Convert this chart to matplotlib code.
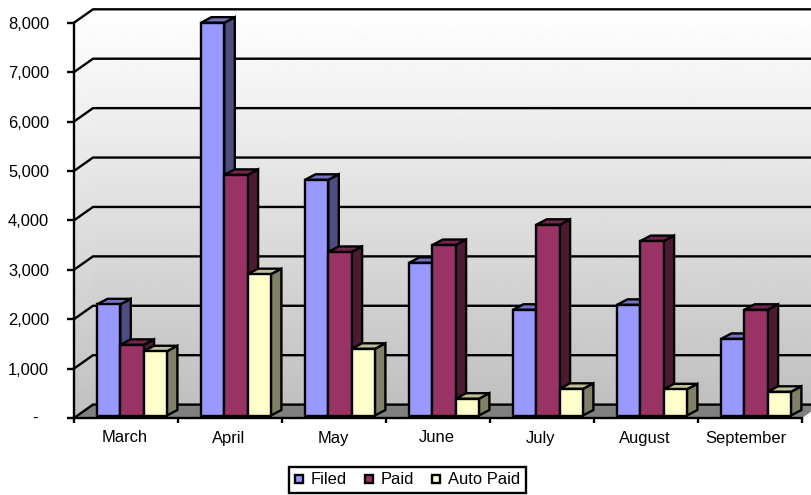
import numpy as np
import matplotlib
matplotlib.use("Agg")
import matplotlib.pyplot as plt
from matplotlib.patches import Polygon, Patch

plt.rcParams["font.family"] = ["Liberation Sans", "DejaVu Sans"]

months = ["March", "April", "May", "June", "July", "August", "September"]
filed = [2250, 7950, 4770, 3090, 2140, 2240, 1550]
paid = [1430, 4870, 3310, 3450, 3860, 3530, 2140]
auto_paid = [1300, 2860, 1350, 340, 540, 530, 480]
y_ticks = [0, 1000, 2000, 3000, 4000, 5000, 6000, 7000, 8000]
y_tick_labels = ["", "1,000", "2,000", "3,000", "4,000", "5,000", "6,000", "7,000", "8,000"]

W, H = 811, 495
LEFT, RIGHT, BOTTOM, TOP = 74, 802, 418, 22.7
LW = 1.7
FS = 11.9

fig = plt.figure(figsize=(W / 100, H / 100), dpi=100, facecolor="white")
ax = fig.add_axes([LEFT / W, 1 - BOTTOM / H, (RIGHT - LEFT) / W, (BOTTOM - TOP) / H])
ax.set_xlim(0, 7)
ax.set_ylim(0, 8000)
ax.patch.set_visible(False)

# Pixel-to-data conversion factors for the oblique depth offsets
px_x = 7 / (RIGHT - LEFT)
px_y = 8000 / (BOTTOM - TOP)
wall_dx, wall_dy = 19 * px_x, 13.4 * px_y
bar_dx, bar_dy = 10.5 * px_x, 5.5 * px_y
base = 2.5 * px_y
bar_w = 23.3 * px_x
bar_start = 23 * px_x

# Walls with a vertical white-to-grey gradient
grad = np.linspace(0xC0 / 255, 1.0, 256)[::-1, None]
ax.imshow(grad, cmap="gray", vmin=0, vmax=1, aspect="auto", clip_on=False, zorder=0,
          extent=[wall_dx, 7 + wall_dx, wall_dy, 8000 + wall_dy])
side = ax.imshow(grad, cmap="gray", vmin=0, vmax=1, aspect="auto", zorder=0,
                 extent=[0, wall_dx, 0, 8000 + wall_dy])
side_shape = Polygon([(0, 0), (wall_dx, wall_dy), (wall_dx, 8000 + wall_dy), (0, 8000)],
                     closed=True, transform=ax.transData, fill=False, edgecolor="none")
ax.add_patch(side_shape)
side.set_clip_path(side_shape)
ax.set_xlim(0, 7)
ax.set_ylim(0, 8000)

# Floor
ax.add_patch(Polygon([(0, 0), (7, 0), (7 + wall_dx, wall_dy), (wall_dx, wall_dy)], closed=True,
                     facecolor="#808080", edgecolor="none", clip_on=False, zorder=1))

# Gridlines run along the side wall and the back wall
for v in y_ticks:
    ax.plot([0, wall_dx, 7 + wall_dx], [v, v + wall_dy, v + wall_dy], color="black", lw=LW,
            clip_on=False, zorder=2, solid_joinstyle="miter")

# Three-dimensional columns: bar front plus top and side faces
series = [
    (filed, "#9999FF", "#7373BF", "#4D4D80"),
    (paid, "#993366", "#73264D", "#4D1A33"),
    (auto_paid, "#FFFFCC", "#BFBF99", "#808066"),
]
order = 3
for i in range(len(months)):
    for j, (vals, front, top, dark) in enumerate(series):
        x0 = i + bar_start + j * bar_w
        x1 = x0 + bar_w
        y0 = base
        y1 = base + vals[i]
        ax.add_patch(Polygon([(x1, y0), (x1 + bar_dx, y0 + bar_dy), (x1 + bar_dx, y1 + bar_dy), (x1, y1)],
                             closed=True, facecolor=dark, edgecolor="black", lw=LW, clip_on=False,
                             zorder=order, joinstyle="miter"))
        ax.add_patch(Polygon([(x0, y1), (x1, y1), (x1 + bar_dx, y1 + bar_dy), (x0 + bar_dx, y1 + bar_dy)],
                             closed=True, facecolor=top, edgecolor="black", lw=LW, clip_on=False,
                             zorder=order, joinstyle="miter"))
        ax.bar(x0, vals[i], width=bar_w, bottom=base, align="edge", color=front,
               edgecolor="black", linewidth=LW, clip_on=False, zorder=order + 0.5)
        order += 1
ax.set_xlim(0, 7)
ax.set_ylim(0, 8000)

# Axes, ticks and labels
for name in ("top", "right"):
    ax.spines[name].set_visible(False)
for name in ("left", "bottom"):
    ax.spines[name].set_linewidth(LW)
    ax.spines[name].set_zorder(2.5)

ax.set_yticks(y_ticks)
ax.set_yticklabels(y_tick_labels, fontsize=FS, color="black")
ax.tick_params(axis="y", length=5, width=LW, pad=13)
ax.set_xticks(range(8))
ax.set_xticklabels([])
ax.tick_params(axis="x", which="major", length=3.6, width=LW)

# Month labels sit slightly left of the category centres; the long last one more so
label_pos = [i + 0.5 - 0.01 for i in range(7)]
label_pos[-1] -= 0.03
ax.set_xticks(label_pos, minor=True)
ax.set_xticklabels(months, minor=True, fontsize=FS, color="black")
ax.tick_params(axis="x", which="minor", length=0, pad=9)
ax.annotate("-", xy=(0, 0), xycoords="data", xytext=(-39, 0), textcoords="offset pixels",
            ha="center", va="center", fontsize=FS, color="black", annotation_clip=False)

handles = [Patch(facecolor=c[1], edgecolor="black", linewidth=LW) for c in series]
leg = fig.legend(handles, ["Filed", "Paid", "Auto Paid"], ncol=3, loc="center",
                 bbox_to_anchor=(407.5 / W, 1 - 480 / H), fontsize=FS, frameon=True, fancybox=False,
                 edgecolor="black", facecolor="white", framealpha=1, handlelength=0.5,
                 handleheight=0.36, handletextpad=0.5, columnspacing=1.05, borderpad=0.36,
                 borderaxespad=0)
leg.get_frame().set_linewidth(LW)

fig.savefig("out.png", dpi=100)
